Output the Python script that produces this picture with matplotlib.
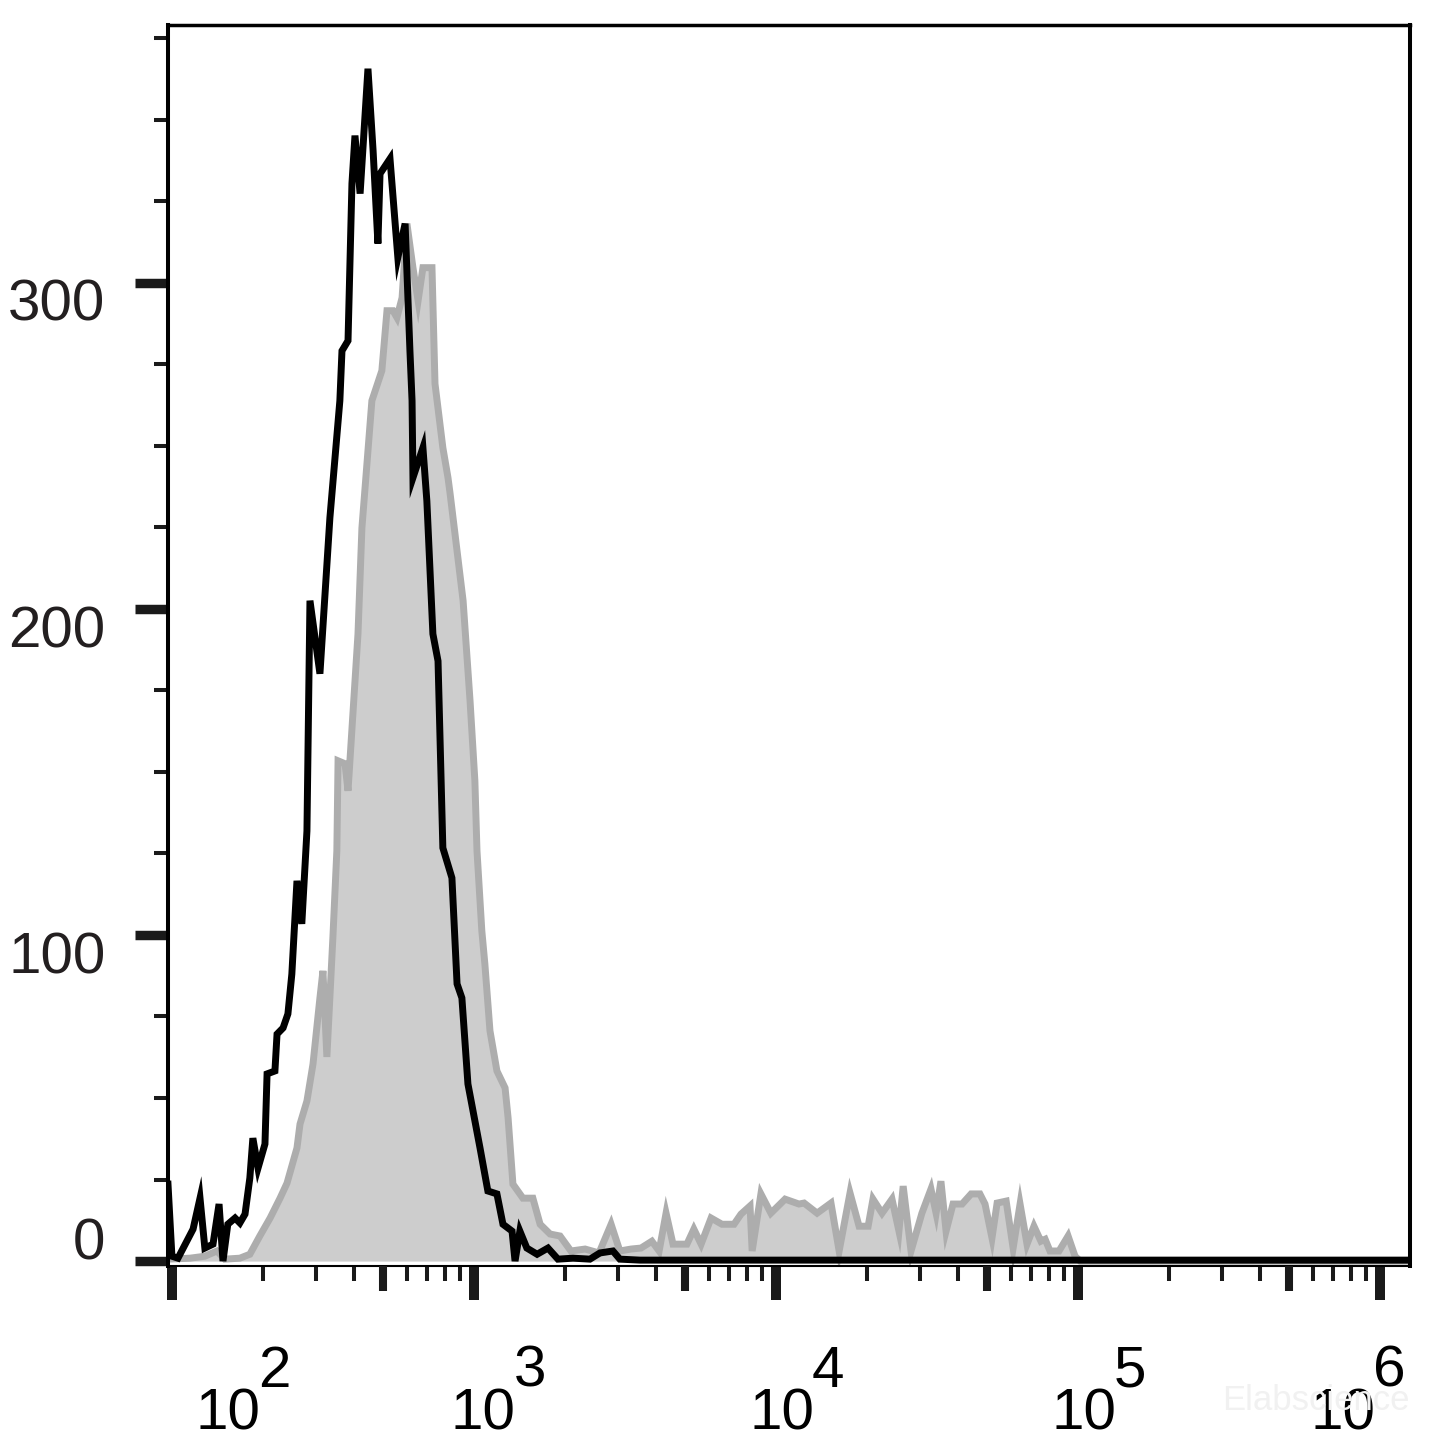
import numpy as np
import matplotlib
matplotlib.use('Agg')
import matplotlib.pyplot as plt
import matplotlib.transforms as mtransforms
from matplotlib.ticker import LogLocator, NullLocator, FixedLocator

plt.rcParams['font.family'] = ['Liberation Sans', 'DejaVu Sans']

# black open histogram (isotype control), x as log10 intensity
black_log = [1.987, 2.000, 2.020, 2.070, 2.093, 2.109, 2.136, 2.156, 2.169, 2.185,
             2.209, 2.225, 2.242, 2.258, 2.268, 2.285, 2.308, 2.315, 2.341, 2.348,
             2.368, 2.384, 2.397, 2.414, 2.430, 2.447, 2.457, 2.490, 2.523, 2.556,
             2.563, 2.583, 2.596, 2.606, 2.623, 2.649, 2.666, 2.682, 2.689, 2.722,
             2.748, 2.772, 2.788, 2.795, 2.798, 2.831, 2.844, 2.864, 2.881, 2.897,
             2.927, 2.944, 2.960, 2.980, 3.020, 3.046, 3.076, 3.096, 3.126, 3.136,
             3.152, 3.175, 3.209, 3.245, 3.278, 3.328, 3.384, 3.417, 3.460, 3.483,
             3.550, 6.100]
black_count = [23.6, 1.5, 0.9, 9.8, 19.3, 4.0, 5.2, 17.5, 0.0, 11.3,
               13.2, 11.7, 14.4, 25.5, 37.7, 28.5, 35.9, 57.4, 58.3, 69.6,
               71.5, 75.8, 88.0, 116.6, 103.4, 131.9, 202.5, 180.1, 227.9, 263.8,
               279.1, 282.2, 330.4, 345.1, 327.3, 365.6, 340.5, 312.0, 333.4, 338.0,
               307.7, 318.1, 279.1, 263.8, 240.2, 249.4, 233.1, 192.3, 184.0, 126.7,
               117.5, 85.0, 80.7, 54.3, 34.7, 21.5, 20.6, 11.3, 9.2, 0.0,
               9.2, 4.0, 2.1, 4.0, 0.6, 0.9, 0.6, 2.5, 3.1, 0.6,
               0.3, 0.3]

# gray filled histogram (stained sample)
gray_log = [1.987, 2.060, 2.109, 2.149, 2.175, 2.225, 2.258, 2.291, 2.325, 2.358,
            2.381, 2.414, 2.424, 2.447, 2.467, 2.490, 2.500, 2.513, 2.533, 2.546,
            2.550, 2.573, 2.583, 2.616, 2.629, 2.662, 2.695, 2.712, 2.732, 2.745,
            2.762, 2.778, 2.798, 2.815, 2.831, 2.861, 2.871, 2.897, 2.914, 2.921,
            2.964, 2.987, 3.003, 3.010, 3.026, 3.036, 3.053, 3.076, 3.103, 3.113,
            3.129, 3.162, 3.195, 3.219, 3.252, 3.285, 3.321, 3.368, 3.414, 3.454,
            3.483, 3.520, 3.553, 3.589, 3.613, 3.636, 3.659, 3.705, 3.728, 3.752,
            3.785, 3.821, 3.861, 3.884, 3.914, 3.921, 3.950, 3.983, 4.030, 4.076,
            4.093, 4.136, 4.182, 4.209, 4.245, 4.275, 4.305, 4.321, 4.351, 4.384,
            4.407, 4.421, 4.447, 4.483, 4.513, 4.530, 4.546, 4.563, 4.586, 4.616,
            4.646, 4.675, 4.692, 4.715, 4.732, 4.762, 4.785, 4.808, 4.831, 4.854,
            4.877, 4.891, 4.907, 4.937, 4.967, 4.990, 5.007, 6.100]
gray_count = [0.6, 0.9, 1.5, 3.1, 0.6, 0.9, 2.1, 7.7, 13.2, 19.3,
              23.9, 34.7, 42.0, 49.1, 60.4, 80.7, 89.0, 62.6, 99.4, 125.8,
              153.4, 152.5, 144.2, 192.3, 224.8, 263.8, 273.0, 291.4, 291.4, 289.3,
              295.4, 318.1, 304.6, 294.5, 304.6, 304.6, 269.0, 249.4, 240.2, 235.3,
              202.5, 171.8, 147.3, 125.8, 101.3, 91.2, 70.6, 58.3, 53.1, 43.9,
              23.6, 19.3, 19.3, 11.3, 8.3, 7.7, 3.1, 3.7, 2.5, 11.3,
              3.1, 3.7, 4.0, 6.1, 3.1, 14.7, 5.2, 5.2, 9.8, 5.2,
              13.2, 11.3, 11.3, 14.4, 16.9, 3.1, 20.6, 14.7, 19.0, 17.5,
              17.8, 14.7, 17.8, 3.1, 20.9, 10.7, 10.7, 19.0, 14.7, 19.0,
              9.2, 23.0, 3.1, 14.7, 22.1, 14.7, 24.5, 9.2, 17.5, 17.5,
              20.6, 20.6, 17.5, 7.1, 17.8, 18.4, 4.0, 17.5, 5.2, 10.7,
              6.1, 6.7, 3.1, 3.1, 7.7, 1.5, 0.0, 0.0]

x_major = [1e2, 1e3, 1e4, 1e5, 1e6]
x_exponents = ['2', '3', '4', '5', '6']
x_mid = [5e2, 5e3, 5e4, 5e5]
y_major = [0, 100, 200, 300]
y_labels = ['0', '100', '200', '300']

W, H = 1445, 1444
fig = plt.figure(figsize=(W / 100, H / 100), dpi=100)
ax = fig.add_axes([168 / W, 1 - 1266 / H, (1410 - 168) / W, (1266 - 25) / H])

bx = 10 ** np.array(black_log)
gx = 10 ** np.array(gray_log)

ax.fill_between(gx, gray_count, 0, color='#cdcdcd', lw=0, zorder=1)
ax.plot(gx, gray_count, color='#adadad', lw=5, solid_joinstyle='miter', zorder=2)
ax.plot(bx, black_count, color='black', lw=5, solid_joinstyle='miter', zorder=3)

ax.set_xscale('log')
ax.set_xlim(10 ** 1.987, 10 ** 6.099)
ax.set_ylim(-1.5, 379)

# spines
ax.spines['left'].set_linewidth(2.9)
ax.spines['top'].set_linewidth(2.5)
ax.spines['right'].set_linewidth(2.9)
ax.spines['bottom'].set_linewidth(1.5)

tick_col = '#1a1a1a'
ax.xaxis.set_major_locator(FixedLocator(x_major))
ax.xaxis.set_minor_locator(LogLocator(base=10, subs=[2, 3, 4, 6, 7, 8, 9]))
ax.yaxis.set_major_locator(FixedLocator(y_major))
ax.yaxis.set_minor_locator(FixedLocator([v for v in range(25, 376, 25) if v % 100]))
ax.tick_params(axis='x', which='major', length=24.5, width=7.2, color=tick_col, labelbottom=False)
ax.tick_params(axis='x', which='minor', length=10.8, width=2.9, color=tick_col)
ax.tick_params(axis='y', which='major', length=23.8, width=6.8, color=tick_col, labelleft=False)
ax.tick_params(axis='y', which='minor', length=10, width=2.9, color=tick_col)

# medium ticks at the 5x positions
ax2 = ax.twiny()
ax2.set_xscale('log')
ax2.set_xlim(ax.get_xlim())
ax2.xaxis.set_ticks_position('bottom')
ax2.xaxis.set_major_locator(FixedLocator(x_mid))
ax2.xaxis.set_minor_locator(NullLocator())
ax2.tick_params(axis='x', which='major', length=18, width=5.8, color=tick_col,
                labelbottom=False, labeltop=False)
for s in ax2.spines.values():
    s.set_visible(False)

# y tick labels
ytrans = mtransforms.blended_transform_factory(ax.transAxes, ax.transData)
for v, lab in zip(y_major, y_labels):
    dy = 1.4 if v == 0 else -27.5
    t = mtransforms.offset_copy(ytrans, fig=fig, x=-45, y=dy, units='points')
    ax.text(0, v, lab, transform=t, ha='right', va='baseline', fontsize=42, color='#231f20')

# watermark
fig.text(1222 / W, 1 - 1410 / H, 'Elabscience', fontsize=25, color='#f1f1f1',
         ha='left', va='baseline')

# x tick labels: "10" with a full-size raised exponent
xtrans = mtransforms.blended_transform_factory(ax.transData, ax.transAxes)
x_shift = [17.3, -16.6, -19.4, -19.4, -50.4]
for v, e, dx in zip(x_major, x_exponents, x_shift):
    t1 = mtransforms.offset_copy(xtrans, fig=fig, x=dx, y=-118, units='points')
    ax.text(v, 0, '10', transform=t1, ha='left', va='baseline', fontsize=42, clip_on=False)
    t2 = mtransforms.offset_copy(xtrans, fig=fig, x=dx + 45, y=-87, units='points')
    ax.text(v, 0, e, transform=t2, ha='left', va='baseline', fontsize=42, clip_on=False)

fig.savefig('out.png', dpi=100)
